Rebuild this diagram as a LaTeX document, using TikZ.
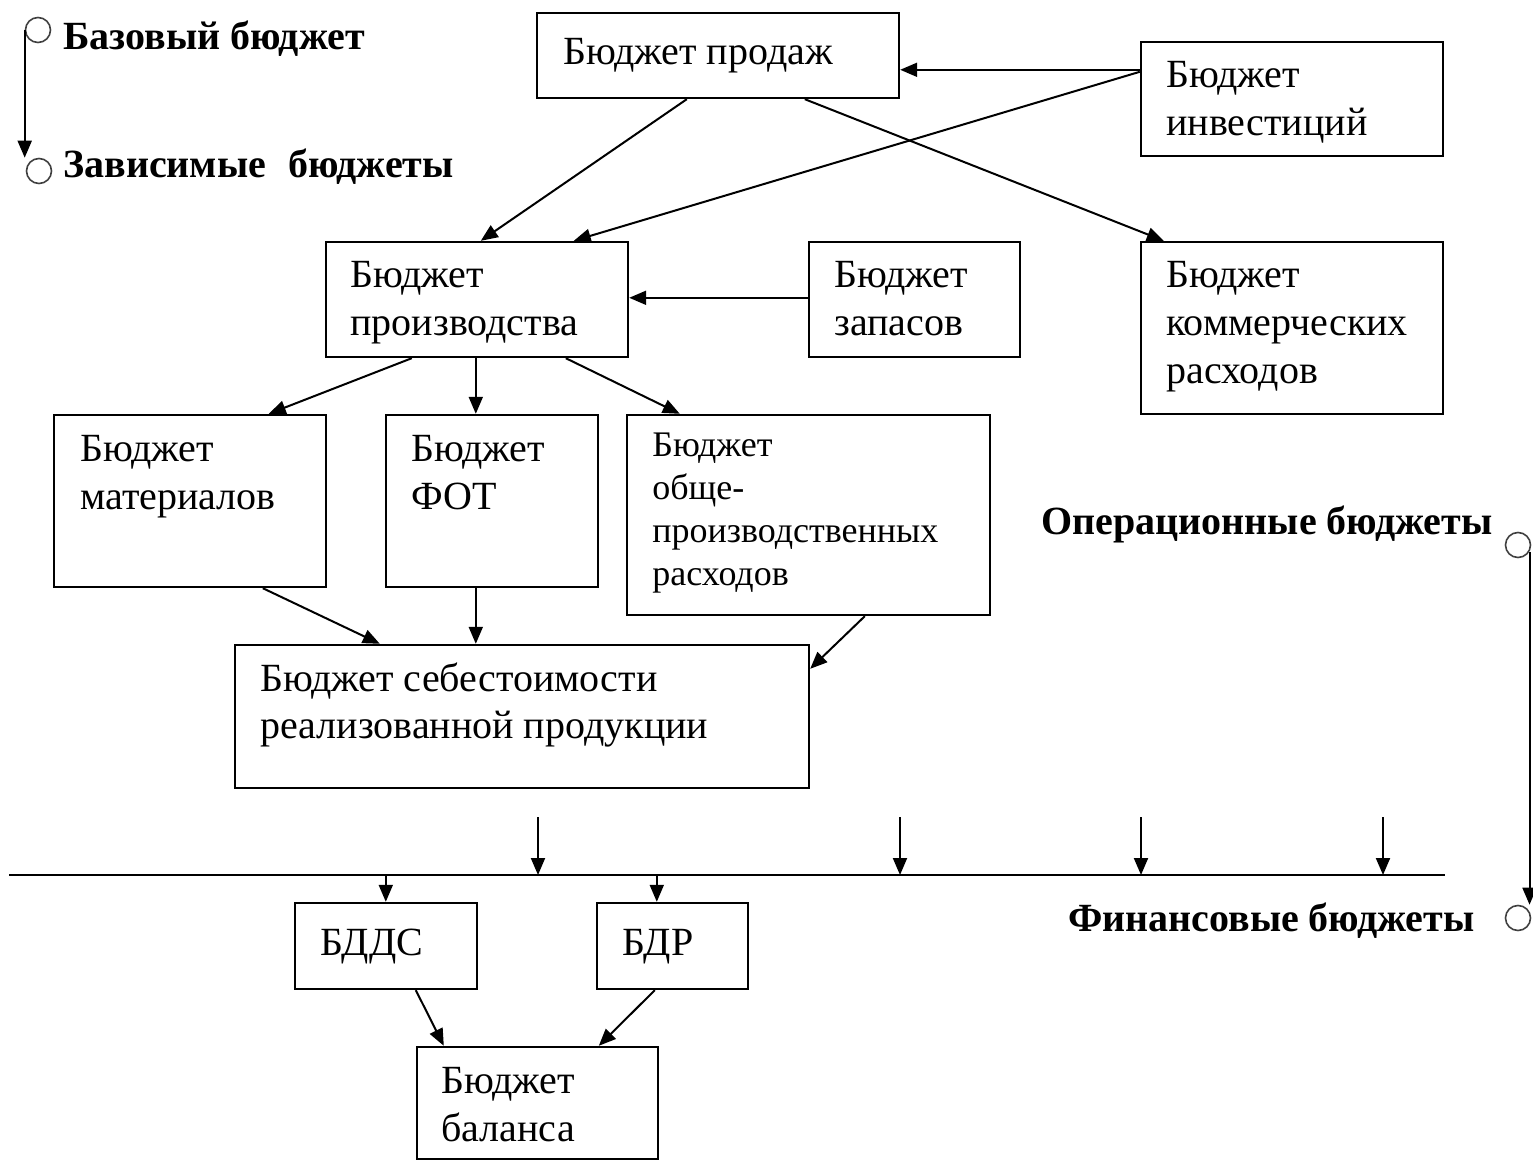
\documentclass[tikz,border=0pt]{standalone}
\usepackage{fontspec}
\setmainfont{Liberation Serif}
\usetikzlibrary{arrows.meta,calc,fit}
\newcommand\mybox[5]{\node[box, fit={(#2,#3) (#4,#5)}] (#1) {};}
\begin{document}
\begin{tikzpicture}[x=0.5pt,y=-0.5pt,
  box/.style={draw, line width=1.2pt, inner sep=0pt, rectangle},
  arr/.style={line width=1pt, -{Triangle[length=8.5pt,width=7pt]}},
  txt/.style={anchor=base west, inner sep=0pt, font=\fontsize{20}{24}\selectfont},
  stxt/.style={anchor=base west, inner sep=0pt, font=\fontsize{18}{21.5}\selectfont},
  btxt/.style={inner sep=0pt, font=\bfseries\fontsize{20}{24}\selectfont},
  ring/.style={circle, draw=black!75, line width=0.8pt, minimum size=12.5pt, inner sep=0pt}]
\useasboundingbox (0,0) rectangle (1533,1160);
\clip (0,0) rectangle (1533,1160);

% boxes
\mybox{prod}{537}{13}{899}{98}
\mybox{inv}{1141}{42}{1443}{156}
\mybox{proizv}{326}{242}{628}{357}
\mybox{zapas}{809}{242}{1020}{357}
\mybox{komm}{1141}{242}{1443}{414}
\mybox{mat}{54}{415}{326}{587}
\mybox{fot}{386}{415}{598}{587}
\mybox{obsh}{627}{415}{990}{615}
\mybox{seb}{235}{645}{809}{788}
\mybox{bdds}{295}{903}{477}{989}
\mybox{bdr}{597}{903}{748}{989}
\mybox{bal}{417}{1047}{658}{1159}

% texts
\node[txt] (tprod) at (563,65) {Бюджет продаж};
\node[txt] (tinv) at (1166,88) {\vtop{\hbox{Бюджет}\hbox{инвестиций}}};
\node[txt] (tproizv) at (350,288) {\vtop{\hbox{Бюджет}\hbox{производства}}};
\node[txt] (tzapas) at (834,288) {\vtop{\hbox{Бюджет}\hbox{запасов}}};
\node[txt] (tkomm) at (1166,288) {\vtop{\hbox{Бюджет}\hbox{коммерческих}\hbox{расходов}}};
\node[txt] (tmat) at (80,462) {\vtop{\hbox{Бюджет}\hbox{материалов}}};
\node[txt] (tfot) at (411,462) {\vtop{\hbox{Бюджет}\hbox{ФОТ}}};
\node[stxt] (tobsh) at (652,457) {\vtop{\hbox{Бюджет}\hbox{обще-}\hbox{производственных}\hbox{расходов}}};
\node[txt] (tseb) at (260,691) {\vtop{\hbox{Бюджет себестоимости}\hbox{реализованной продукции}}};
\node[txt] (tbdds) at (320,955) {БДДС};
\node[txt] (tbdr) at (622,955) {БДР};
\node[txt] (tbal) at (441,1093) {\vtop{\hbox{Бюджет}\hbox{баланса}}};

% legend
\node[ring] (c1) at (38,30) {};
\node[ring] (c2) at (39,171) {};
\node[ring] (c3) at (1518,545) {};
\node[ring] (c4) at (1518,918) {};
\node[btxt, anchor=base west] (l1) at (63,50) {Базовый бюджет};
\node[btxt, anchor=base west] (l2) at (63,178) {Зависимые\hspace{0.3em} бюджеты};
\node[btxt, anchor=base east] (l3) at (1493,535) {Операционные бюджеты};
\node[btxt, anchor=base east] (l4) at (1475,931) {Финансовые бюджеты};
\draw[arr] (c1.west) -- (c1.west |- c2.north);
\draw[arr] (c3.-30) -- (c3.-30 |- c4.north);

% connectors
\draw[arr] ($(inv.north west)+(0,29)$) -- ($(prod.north east)+(0,58)$);
\draw[arr] ($(inv.north west)+(0,31)$) -- ($(proizv.north west)+(249,0)$);
\draw[arr] ($(prod.south west)+(151,0)$) -- ($(proizv.north west)+(156,0)$);
\draw[arr] ($(prod.south west)+(269,0)$) -- ($(komm.north west)+(24,0)$);
\draw[arr] ($(zapas.north west)+(0,57)$) -- ($(proizv.north east)+(0,57)$);
\draw[arr] ($(proizv.south west)+(87,0)$) -- ($(mat.north west)+(216,0)$);
\draw[arr] ($(proizv.south west)+(151,0)$) -- ($(fot.north west)+(91,0)$);
\draw[arr] ($(proizv.south west)+(241,0)$) -- ($(obsh.north west)+(54,0)$);
\draw[arr] ($(mat.south west)+(210,0)$) -- ($(seb.north west)+(146,0)$);
\draw[arr] ($(fot.south west)+(91,0)$) -- ($(seb.north west)+(242,0)$);
\draw[arr] ($(obsh.south west)+(239,0)$) -- ($(seb.north east)+(0,25)$);
\draw[arr] ($(bdds.south west)+(122,0)$) -- ($(bal.north west)+(28,0)$);
\draw[arr] ($(bdr.south west)+(59,0)$) -- ($(bal.north west)+(183,0)$);

% bus
\coordinate (busL) at (9,875);
\coordinate (busR) at (1445,875);
\draw[line width=1pt] (busL) -- (busR);
\coordinate (a1) at (538,817);
\coordinate (a2) at (900,817);
\coordinate (a3) at (1141,817);
\coordinate (a4) at (1383,817);
\foreach \a in {a1,a2,a3,a4} \draw[arr] (\a) -- (\a |- busL);
\coordinate (d1) at ($(bdds.north west)+(92,0)$);
\coordinate (d2) at ($(bdr.north west)+(61,0)$);
\draw[arr] (d1 |- busL) -- (d1);
\draw[arr] (d2 |- busL) -- (d2);
\end{tikzpicture}
\end{document}
